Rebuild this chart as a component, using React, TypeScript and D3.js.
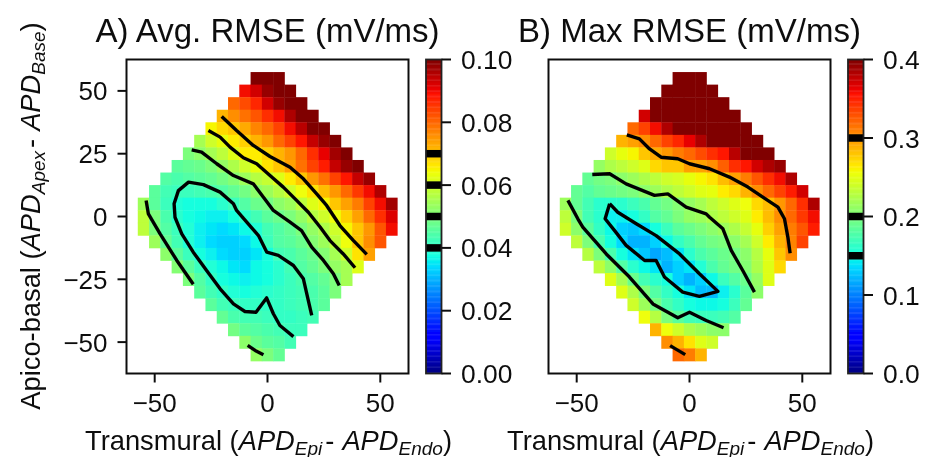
import React from "react";
import * as d3 from "d3";

// Cell values, row by row from top (y=55) to bottom (y=-55), left to right.
// Panel A in units of 0.001 mV/ms, panel B in units of 0.004 mV/ms.
const rowYs = [55, 50, 45, 40, 35, 30, 25, 20, 15, 10, 5, 0, -5, -10, -15, -20, -25, -30, -35, -40, -45, -50, -55];
const rowHalfWidths = [5, 10, 15, 20, 25, 30, 35, 40, 45, 50, 55, 55, 55, 50, 45, 40, 35, 30, 25, 20, 15, 10, 5];

const avgRows = [
  [100, 100, 100],
  [90, 93, 98, 100, 100],
  [80, 83, 87, 93, 98, 100, 100],
  [72, 76, 79, 82, 86, 90, 96, 100, 100],
  [65, 68, 70, 73, 77, 80, 84, 90, 95, 100, 100],
  [55, 60, 63, 66, 69, 72, 75, 80, 84, 89, 94, 98, 100],
  [50, 52, 55, 58, 62, 66, 66, 69, 72, 75, 80, 86, 91, 97, 100],
  [46, 47, 48, 50, 53, 56, 60, 63, 67, 70, 74, 79, 84, 88, 94, 98, 100],
  [45, 44, 45, 46, 47, 49, 51, 54, 57, 59, 62, 66, 70, 75, 79, 84, 89, 94, 98],
  [46, 43, 42, 42, 43, 44, 45, 47, 49, 52, 54, 57, 60, 64, 67, 71, 75, 80, 85, 90, 96],
  [54, 46, 42, 39, 38, 38, 38, 40, 42, 45, 48, 49, 52, 54, 58, 62, 65, 70, 74, 78, 84, 90, 97],
  [58, 50, 44, 40, 38, 37, 36, 36, 38, 40, 43, 46, 48, 50, 53, 57, 60, 64, 69, 74, 80, 86, 92],
  [58, 50, 45, 42, 39, 36, 35, 34, 35, 37, 39, 43, 45, 47, 50, 53, 56, 60, 65, 70, 75, 82, 90],
  [54, 47, 43, 39, 36, 34, 33, 33, 34, 37, 42, 45, 46, 48, 51, 54, 58, 64, 70, 76, 82],
  [52, 46, 42, 38, 36, 34, 33, 33, 35, 38, 43, 44, 46, 48, 51, 55, 60, 67, 74],
  [51, 46, 42, 39, 37, 35, 34, 37, 38, 40, 43, 45, 47, 50, 53, 55, 62],
  [50, 45, 41, 38, 37, 36, 37, 38, 40, 42, 44, 45, 47, 50, 55],
  [46, 43, 41, 39, 38, 39, 40, 41, 42, 43, 44, 46, 50],
  [46, 43, 42, 41, 41, 41, 41, 42, 43, 44, 46],
  [47, 44, 43, 43, 42, 41, 41, 42, 43],
  [49, 46, 45, 44, 43, 42, 42],
  [52, 48, 46, 45, 43],
  [53, 50, 47],
];

const maxRows = [
  [100, 100, 100],
  [100, 100, 100, 100, 100],
  [100, 100, 100, 100, 100, 100, 100],
  [93, 100, 100, 100, 100, 100, 100, 100, 100],
  [80, 84, 90, 96, 100, 100, 100, 100, 100, 100, 100],
  [72, 74, 76, 80, 84, 87, 91, 96, 100, 100, 100, 100, 100],
  [60, 63, 65, 70, 73, 75, 78, 80, 83, 86, 89, 95, 100, 100, 100],
  [53, 56, 58, 60, 62, 68, 70, 70, 74, 74, 76, 81, 86, 89, 93, 96, 98],
  [47, 49, 50, 52, 54, 56, 58, 60, 61, 63, 65, 67, 71, 74, 78, 82, 86, 90, 96],
  [47, 45, 47, 48, 49, 50, 52, 54, 56, 58, 60, 62, 63, 66, 68, 72, 76, 80, 84, 88, 93],
  [54, 47, 43, 40, 40, 40, 42, 44, 47, 49, 51, 53, 55, 58, 60, 62, 64, 68, 71, 75, 80, 86, 96],
  [58, 50, 43, 40, 36, 36, 38, 41, 45, 47, 50, 53, 54, 56, 58, 60, 62, 66, 71, 76, 80, 85, 90],
  [60, 52, 46, 41, 37, 33, 32, 34, 38, 42, 46, 48, 50, 52, 54, 56, 59, 63, 69, 74, 78, 82, 88],
  [58, 50, 44, 38, 34, 30, 30, 33, 37, 41, 44, 47, 49, 50, 52, 55, 60, 66, 72, 77, 84],
  [57, 50, 44, 38, 35, 32, 29, 31, 35, 40, 44, 46, 48, 49, 52, 57, 63, 70, 76],
  [58, 52, 45, 40, 37, 35, 30, 33, 35, 39, 44, 47, 49, 51, 56, 62, 68],
  [62, 55, 48, 43, 40, 38, 33, 30, 33, 37, 42, 45, 48, 53, 62],
  [62, 56, 50, 45, 41, 38, 35, 31, 31, 36, 40, 46, 52],
  [60, 54, 49, 44, 41, 38, 37, 37, 38, 42, 47],
  [64, 57, 50, 46, 43, 42, 42, 43, 45],
  [72, 64, 60, 56, 54, 52, 52],
  [76, 72, 67, 62, 60],
  [80, 78, 72],
];

// Contour lines, as [x, y] in data units.
type Pt = [number, number];
const avgContours: Pt[][] = [
  [[-20.3, 39.8], [-13.7, 34.2], [-6.3, 28.3], [1.1, 23.9], [10, 19.6], [15.9, 15], [21.8, 9], [26.2, 4.4], [32.1, -3.6], [38, -9.5], [44, -15.1]],
  [[-26.2, 34.2], [-21, 31.6], [-16.6, 27.6], [-10.7, 23.4], [-4.8, 21], [1.1, 16.3], [7, 11.7], [12.9, 6.4], [18.1, 1.7], [23.3, -4.2], [27.7, -9.6], [33.6, -14.9], [38.8, -20.4]],
  [[-33.6, 26.5], [-29.2, 25.6], [-22.5, 21], [-15.1, 16.3], [-6.3, 13], [-1.8, 7.7], [2.6, 2.4], [10, -2.25], [15.1, -5.6], [19.6, -12.2], [24.8, -17.5], [29.2, -22.8], [31.8, -27.5]],
  [[19.6, -39.4], [15.9, -24.8], [11.5, -19.5], [4.8, -15.5], [-0.3, -14.2], [-4, -7.6], [-9.2, -2.25], [-13.7, 2.4], [-15.1, 5.1], [-21, 9.7], [-28.4, 12.7], [-35, 13.7], [-39.5, 10.3], [-41.4, 5.1], [-41, -0.3], [-38, -6.9], [-32.9, -14.2], [-27, -21.5], [-21, -28.8], [-15.1, -34.8], [-10, -37.8], [-5.1, -38.1], [-0.4, -32.4], [2.6, -38.7], [5.5, -43.4], [11.5, -47.8]],
  [[-53.8, 6.4], [-52.8, 1], [-47.6, -6.9], [-40.2, -17.5], [-32.9, -27]],
  [[-8.8, -51.3], [-5.5, -53.3], [-1.8, -55]],
];
const maxContours: Pt[][] = [
  [[-27.8, 32.5], [-22.2, 30.9], [-17.7, 26.9], [-12.6, 23.6], [-5.2, 23], [0, 21], [8.9, 19], [17.7, 15.7], [25.9, 11.7], [32.5, 7.7], [39.2, 3.7], [42.1, -0.9], [43.6, -8.2], [44.6, -14.6]],
  [[-43.1, 16.7], [-35.4, 17], [-28.1, 13], [-15.5, 8.4], [-9.6, 9], [-1.5, 3.7], [7.4, 1.05], [8.9, -0.3], [14.8, -4.9], [18.5, -13.5], [23.6, -21.5], [28.8, -30.1]],
  [[-53.9, 6.4], [-49.5, -0.9], [-47.3, -4.2], [-36.9, -14.9], [-26.6, -24.1], [-16.2, -34.8], [-5.2, -40.3], [0, -38.1], [7.4, -41.4], [15.1, -44.3]],
  [[-8.6, -51.4], [-1.9, -55]],
  [[-35.4, 5.1], [-37.4, -0.9], [-33.2, -5.6], [-28.1, -11.5], [-19.9, -17.5], [-14.8, -17.5], [-11.1, -24.1], [-3, -30.1], [4.4, -31.8], [12.6, -29.8], [4.4, -22.8], [-4.4, -14.9], [-14.8, -7.6], [-23.6, -2.9], [-31.8, 1.7], [-35.4, 5.1]],
];

const axisTicks = [-50, 0, 50];
const yTicks = [-50, -25, 0, 25, 50];
const avgBarTicks = [0, 0.02, 0.04, 0.06, 0.08, 0.1];
const maxBarTicks = [0, 0.1, 0.2, 0.3, 0.4];
const avgLevels = [0.04, 0.05, 0.06, 0.07];
const maxLevels = [0.15, 0.2, 0.3];

const FONT = "'Liberation Sans', Arial, sans-serif";
const TICK = 26;
const LABEL = 27.3;
const SUB = 19;

// matplotlib "jet"
function jet(t: number) {
  const seg = (pts: number[][]) => {
    const c = Math.max(0, Math.min(1, t));
    for (let i = 1; i < pts.length; i++) {
      if (c <= pts[i][0]) {
        const [a, va] = pts[i - 1];
        const [b, vb] = pts[i];
        return va + ((c - a) / (b - a)) * (vb - va);
      }
    }
    return pts[pts.length - 1][1];
  };
  const r = seg([[0, 0], [0.35, 0], [0.66, 1], [0.89, 1], [1, 0.5]]);
  const g = seg([[0, 0], [0.125, 0], [0.375, 1], [0.64, 1], [0.91, 0], [1, 0]]);
  const b = seg([[0, 0.5], [0.11, 1], [0.34, 1], [0.65, 0], [1, 0]]);
  return `rgb(${Math.round(r * 255)},${Math.round(g * 255)},${Math.round(b * 255)})`;
}

const top = 59.5;
const bottom = 373.5;
const axW = 282;
const barW = 15.5;
const barGap = 17.5;
const yScale = d3.scaleLinear().domain([-62.5, 62.5]).range([bottom, top]);

function Panel({ left, title, rows, contours, barTicks, barMax, levels, tickFmt, showY, cellUnit }: {
  left: number; title: string; rows: number[][]; contours: Pt[][]; barTicks: number[]; barMax: number;
  levels: number[]; tickFmt: string; showY: boolean; cellUnit: number;
}) {
  const xScale = d3.scaleLinear().domain([-62.5, 62.5]).range([left, left + axW]);
  const cellW = xScale(5) - xScale(0);
  const cellH = yScale(0) - yScale(5);
  const line = d3.line<Pt>().x((d) => xScale(d[0])).y((d) => yScale(d[1])).curve(d3.curveLinear);
  const barX = left + axW + barGap;
  const barY = d3.scaleLinear().domain([0, barMax]).range([bottom, top]);
  const steps = d3.range(256);
  const fmt = d3.format(tickFmt);
  return (
    <g fontFamily={FONT} fill="#111">
      {rows.map((row, ri) =>
        row.map((v, ci) => {
          const cx = -rowHalfWidths[ri] + ci * 5;
          return (
            <rect
              key={`${ri}-${ci}`}
              x={xScale(cx - 2.5)}
              y={yScale(rowYs[ri] + 2.5)}
              width={cellW + 0.4}
              height={cellH + 0.4}
              fill={jet((v * cellUnit) / barMax)}
            />
          );
        })
      )}
      {contours.map((c, i) => (
        <path key={i} d={line(c) ?? ""} fill="none" stroke="#050505" strokeWidth={3.4} strokeLinejoin="round" strokeLinecap="butt" />
      ))}
      <rect x={left} y={top} width={axW} height={bottom - top} fill="none" stroke="#111" strokeWidth={2} />
      {axisTicks.map((t) => (
        <g key={t}>
          <line x1={xScale(t)} x2={xScale(t)} y1={bottom} y2={bottom + 9} stroke="#111" strokeWidth={2} />
          <text x={xScale(t)} y={411.5} textAnchor="middle" fontSize={TICK}>{t < 0 ? `\u2212${-t}` : t}</text>
        </g>
      ))}
      {showY && yTicks.map((t) => (
        <g key={t}>
          <line x1={left - 9} x2={left} y1={yScale(t)} y2={yScale(t)} stroke="#111" strokeWidth={2} />
          <text x={left - 19} y={yScale(t) + 9.5} textAnchor="end" fontSize={TICK}>{t < 0 ? `\u2212${-t}` : t}</text>
        </g>
      ))}
      <text x={left + axW / 2} y={41.5} textAnchor="middle" fontSize={33}>{title}</text>
      <text x={left + axW / 2 + 1} y={450} textAnchor="middle" fontSize={LABEL}>
        Transmural (<tspan fontStyle="italic">APD</tspan><tspan fontStyle="italic" fontSize={SUB} dy={5}>Epi</tspan>
        <tspan dy={-5} dx={3}>-</tspan><tspan fontStyle="italic" dx={8}>APD</tspan><tspan fontStyle="italic" fontSize={SUB} dy={5}>Endo</tspan><tspan dy={-5}>)</tspan>
      </text>
      {steps.map((s) => {
        const a = s / 256;
        const b = (s + 1) / 256;
        return (
          <rect key={s} x={barX} y={barY(b * barMax)} width={barW} height={barY(a * barMax) - barY(b * barMax) + 0.4} fill={jet((s + 0.5) / 256)} />
        );
      })}
      {levels.map((l) => (
        <line key={l} x1={barX} x2={barX + barW} y1={barY(l)} y2={barY(l)} stroke="#000" strokeWidth={7.5} />
      ))}
      <rect x={barX} y={top} width={barW} height={bottom - top} fill="none" stroke="#222" strokeWidth={1.8} />
      {barTicks.map((t) => (
        <g key={t}>
          <line x1={barX + barW} x2={barX + barW + 9.5} y1={barY(t)} y2={barY(t)} stroke="#111" strokeWidth={2} />
          <text x={barX + barW + 19.5} y={barY(t) + 9.5} fontSize={26.4}>{fmt(t)}</text>
        </g>
      ))}
    </g>
  );
}

export default function App() {
  const cy = (top + bottom) / 2;
  return (
    <svg width={928} height={457} style={{ position: "absolute", left: 0, top: 0, background: "#fff" }}>
      <defs>
        <filter id="soft" x="0" y="0" width="100%" height="100%" filterUnits="objectBoundingBox">
          <feGaussianBlur stdDeviation="0.5" />
        </filter>
      </defs>
      <g filter="url(#soft)">
        <rect x={0} y={0} width={928} height={457} fill="#fff" />
        <Panel left={126.5} title="A) Avg. RMSE (mV/ms)" rows={avgRows} contours={avgContours} barTicks={avgBarTicks} barMax={0.1}
          levels={avgLevels} tickFmt=".2f" showY cellUnit={0.001} />
        <Panel left={548.5} title="B) Max RMSE (mV/ms)" rows={maxRows} contours={maxContours} barTicks={maxBarTicks} barMax={0.4}
          levels={maxLevels} tickFmt=".1f" showY={false} cellUnit={0.004} />
        <text transform={`translate(39.5,216) rotate(-90)`} textAnchor="middle" fontFamily={FONT} fontSize={LABEL} fill="#111">
          Apico-basal (<tspan fontStyle="italic">APD</tspan><tspan fontStyle="italic" fontSize={SUB} dy={5}>Apex</tspan>
          <tspan dy={-5} dx={3}>-</tspan><tspan fontStyle="italic" dx={8}>APD</tspan><tspan fontStyle="italic" fontSize={SUB} dy={5}>Base</tspan><tspan dy={-5}>)</tspan>
        </text>
      </g>
    </svg>
  );
}
